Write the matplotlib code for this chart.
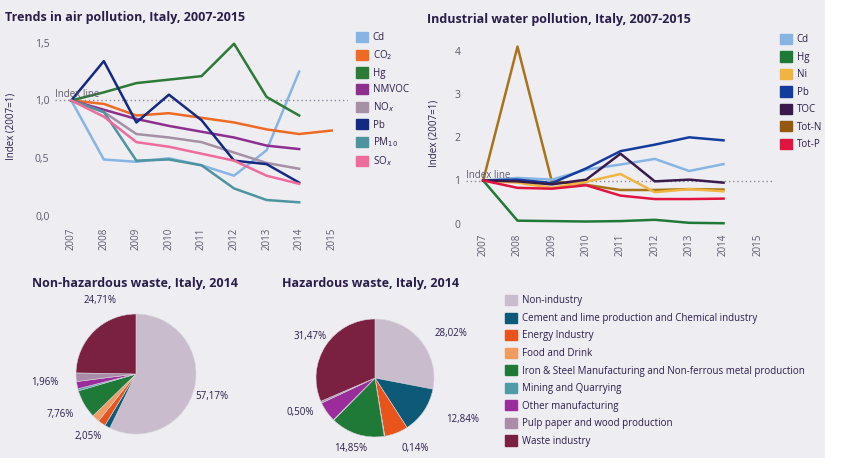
import matplotlib.pyplot as plt
from matplotlib.patches import Rectangle, Patch

plt.rcParams['font.family'] = ['Open Sans', 'DejaVu Sans']

W, H = 850, 470
BG = '#eeedf2'
INK = '#2a1d4a'
GREY = '#5f5a6e'

years = list(range(2007, 2016))

# air pollution, index 2007=1
air_names = ['Cd', 'CO$_2$', 'Hg', 'NMVOC', 'NO$_x$', 'Pb', 'PM$_{10}$', 'SO$_x$']
air_cd = [1.0, 0.49, 0.47, 0.50, 0.44, 0.35, 0.57, 1.25]
air_co2 = [1.0, 0.97, 0.87, 0.89, 0.85, 0.81, 0.75, 0.71, 0.74]
air_hg = [1.0, 1.07, 1.15, 1.18, 1.21, 1.49, 1.03, 0.87]
air_nmvoc = [1.0, 0.92, 0.84, 0.78, 0.73, 0.68, 0.61, 0.58]
air_nox = [1.0, 0.90, 0.71, 0.68, 0.64, 0.55, 0.46, 0.41]
air_pb = [1.0, 1.34, 0.81, 1.05, 0.83, 0.48, 0.45, 0.29]
air_pm10 = [1.0, 0.90, 0.48, 0.49, 0.44, 0.24, 0.14, 0.12]
air_sox = [1.0, 0.86, 0.64, 0.60, 0.54, 0.48, 0.35, 0.28]
air_colors = ['#86b5e3', '#ef6a22', '#2b7a35', '#8d2f8f', '#a590a6', '#142a82', '#4c949e', '#ef6b9b']

# industrial water pollution, index 2007=1
water_names = ['Cd', 'Hg', 'Ni', 'Pb', 'TOC', 'Tot-N', 'Tot-P']
w_cd = [1.0, 1.06, 1.02, 1.25, 1.37, 1.50, 1.22, 1.38]
w_hg = [1.0, 0.07, 0.06, 0.05, 0.06, 0.09, 0.02, 0.01]
w_ni = [1.0, 0.95, 0.83, 0.97, 1.15, 0.73, 0.80, 0.75]
w_pb = [1.0, 1.02, 0.94, 1.28, 1.68, 1.83, 2.00, 1.93]
w_toc = [1.0, 0.98, 0.91, 1.02, 1.62, 0.98, 1.02, 0.95]
w_totn = [1.0, 4.10, 0.98, 0.90, 0.78, 0.78, 0.80, 0.79]
w_totp = [1.0, 0.83, 0.81, 0.89, 0.65, 0.57, 0.57, 0.58]
water_colors = ['#86b5e3', '#1f7a38', '#f0b540', '#133c9c', '#3a1a4a', '#a8741a', '#e0143f']
water_legend_colors = ['#86b5e3', '#1f7a38', '#f0b540', '#133c9c', '#3a1a4a', '#94590f', '#e0143f']

# waste by sector, 2014 (%)
sectors = ['Non-industry', 'Cement and lime production and Chemical industry', 'Energy Industry',
           'Food and Drink', 'Iron & Steel Manufacturing and Non-ferrous metal production',
           'Mining and Quarrying', 'Other manufacturing', 'Pulp paper and wood production',
           'Waste industry']
nonhaz = [57.17, 1.50, 2.05, 2.00, 7.76, 0.55, 1.96, 2.30, 24.71]
haz = [28.02, 12.84, 6.50, 0.14, 14.85, 0.10, 5.58, 0.50, 31.47]
nonhaz_labels = ['57,17%', None, '2,05%', None, '7,76%', None, '1,96%', None, '24,71%']
haz_labels = ['28,02%', '12,84%', '0,14%', None, '14,85%', None, '0,50%', None, '31,47%']
sector_colors = ['#c8bccd', '#0d5a78', '#e9541a', '#f39a60', '#1f7a38',
                 '#4f9ba8', '#9b2c9b', '#a88ca8', '#7a2040']

# label offsets (in pie radii) from the pie centre
nonhaz_offsets = [(1.27, -0.38), None, (-0.8, -1.05), None, (-1.27, -0.67), None,
                  (-1.52, -0.15), None, (-0.6, 1.23)]
haz_offsets = [(1.29, 0.76), (1.49, -0.71), (0.68, -1.2), None, (-0.42, -1.2), None,
               (-1.27, -0.58), None, (-1.1, 0.71)]


def px_axes(fig, x0, y0, x1, y1):
    # axes from a pixel box (top-left origin)
    return fig.add_axes([x0 / W, 1 - y1 / H, (x1 - x0) / W, (y1 - y0) / H])


fig = plt.figure(figsize=(W / 100, H / 100), dpi=100, facecolor='white')
fig.patches.append(Rectangle((0, 1 - 458 / H), 825 / W, 458 / H, transform=fig.transFigure,
                             facecolor=BG, edgecolor='none', zorder=-10))

LEG_KW = dict(frameon=False, fontsize=7, handlelength=1.25, handleheight=1.25,
              handletextpad=0.45, borderaxespad=0, borderpad=0)


def style_line_axes(ax, yticks, ylabels):
    ax.set_facecolor('none')
    for s in ax.spines.values():
        s.set_visible(False)
    ax.set_xticks(years)
    ax.set_xticklabels([str(y) for y in years], rotation=90, fontsize=7, color=GREY)
    ax.set_yticks(yticks)
    ax.set_yticklabels(ylabels, fontsize=7.5, color=GREY)
    ax.tick_params(length=0, pad=4)
    ax.set_ylabel('Index (2007=1)', fontsize=7, color=INK)
    ax.axhline(1, color='#8d8a9a', lw=1, ls=(0, (1, 2)), zorder=0)
    ax.text(years[0] - 0.5, 1.0, 'Index line', fontsize=7, color=GREY, va='bottom', ha='left')


def ink_texts(leg):
    for t in leg.get_texts():
        t.set_color(INK)


# --- air pollution
ax1 = px_axes(fig, 55, 31, 348, 222)
air_series = [air_cd, air_co2, air_hg, air_nmvoc, air_nox, air_pb, air_pm10, air_sox]
for name, vals, c in zip(air_names, air_series, air_colors):
    ax1.plot(years[:len(vals)], vals, color=c, lw=1.8)
ax1.set_xlim(2006.5, 2015.5)
ax1.set_ylim(-0.05, 1.6)
style_line_axes(ax1, [0, 0.5, 1.0, 1.5], ['0,0', '0,5', '1,0', '1,5'])
ax1.yaxis.set_label_coords(-0.13, 0.5)
leg1 = fig.legend([Patch(color=c) for c in air_colors], air_names, loc='upper left',
                  bbox_to_anchor=(356 / W, 1 - 32 / H), labelspacing=0.52, **LEG_KW)
ink_texts(leg1)
fig.text(5 / W, 1 - 18 / H, 'Trends in air pollution, Italy, 2007-2015', fontsize=9,
         fontweight='bold', color=INK, va='center')

# --- water pollution
ax2 = px_axes(fig, 466, 38, 775, 228)
water_series = [w_cd, w_hg, w_ni, w_pb, w_toc, w_totn, w_totp]
for i in [5, 0, 1, 2, 3, 4, 6]:
    ax2.plot(years[:len(water_series[i])], water_series[i], color=water_colors[i], lw=1.8)
ax2.set_xlim(2006.5, 2015.5)
ax2.set_ylim(-0.1, 4.3)
style_line_axes(ax2, [0, 1, 2, 3, 4], ['0', '1', '2', '3', '4'])
ax2.yaxis.set_label_coords(-0.085, 0.5)
leg2 = fig.legend([Patch(color=c) for c in water_legend_colors], water_names, loc='upper left',
                  bbox_to_anchor=(780 / W, 1 - 34 / H), labelspacing=0.62, **LEG_KW)
ink_texts(leg2)
fig.text(427 / W, 1 - 19 / H, 'Industrial water pollution, Italy, 2007-2015', fontsize=9,
         fontweight='bold', color=INK, va='center')


# --- pies
def draw_pie(cx, cy, r, vals, labels, offsets, title, tx):
    ax = px_axes(fig, cx - 1.7 * r, cy - 1.7 * r, cx + 1.7 * r, cy + 1.7 * r)
    wedges, _ = ax.pie(vals, colors=sector_colors, startangle=90, counterclock=False,
                       radius=1, center=(0, 0), frame=True,
                       wedgeprops=dict(edgecolor='#d8d4de', linewidth=0.4))
    ax.set_xlim(-1.7, 1.7)
    ax.set_ylim(-1.7, 1.7)
    ax.set_aspect('equal')
    ax.axis('off')
    for lab, off in zip(labels, offsets):
        if lab:
            ax.text(off[0], off[1], lab, fontsize=7, color=INK, ha='center', va='center')
    fig.text(tx / W, 1 - 283 / H, title, fontsize=9, fontweight='bold', color=INK,
             ha='center', va='center')
    return wedges


draw_pie(136, 374, 60, nonhaz, nonhaz_labels, nonhaz_offsets,
         'Non-hazardous waste, Italy, 2014', 135)
draw_pie(375, 378, 59, haz, haz_labels, haz_offsets,
         'Hazardous waste, Italy, 2014', 371)

leg3 = fig.legend([Patch(color=c) for c in sector_colors], sectors, loc='upper left',
                  bbox_to_anchor=(505 / W, 1 - 295 / H), labelspacing=0.63, **LEG_KW)
ink_texts(leg3)

fig.savefig('out.png', dpi=100, facecolor='white')
